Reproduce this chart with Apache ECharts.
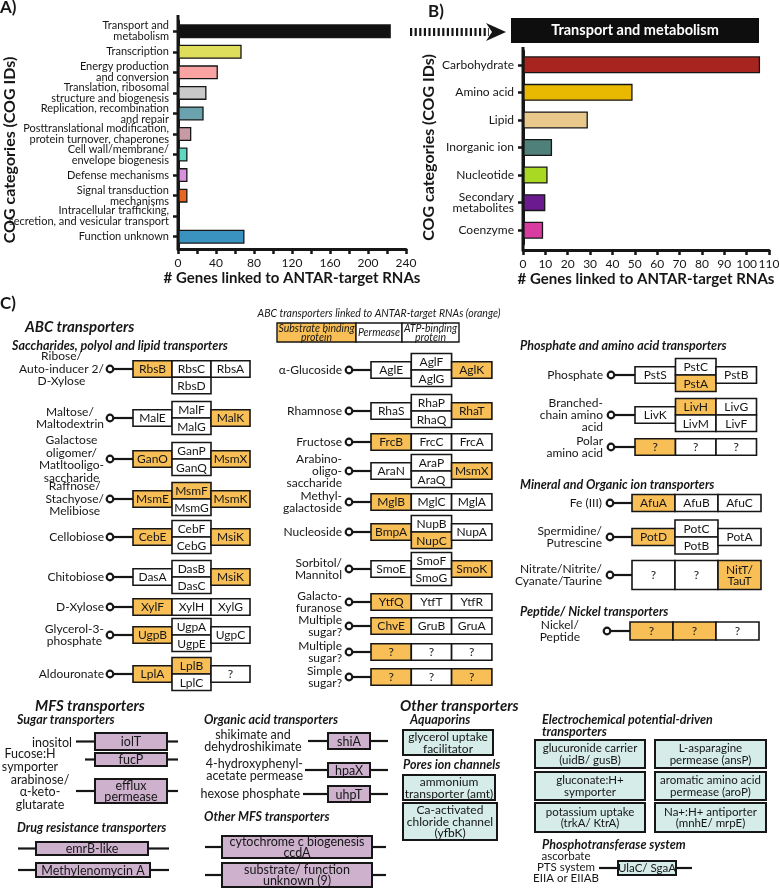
<!DOCTYPE html>
<html>
<head>
<meta charset="utf-8">
<script src="https://cdn.jsdelivr.net/npm/echarts@6/dist/echarts.min.js"></script>
<style>
  html, body { margin: 0; padding: 0; background: #fff; }
  #chart { width: 779px; height: 891px; }
</style>
</head>
<body>
<div id="chart"></div>
<script>
// ---------- panel A: all COG categories
const catsA = [
  'Transport and\nmetabolism', 'Transcription', 'Energy production\nand conversion',
  'Translation, ribosomal\nstructure and biogenesis', 'Replication, recombination\nand repair',
  'Posttranslational modification,\nprotein turnover, chaperones', 'Cell wall/membrane/\nenvelope biogenesis',
  'Defense mechanisms', 'Signal transduction\nmechanisms',
  'Intracellular trafficking,\nsecretion, and vesicular transport', 'Function unknown'
];
const valsA = [224, 67, 42, 30, 27, 14, 10, 10, 10, 0, 70];
const colorsA = ['#111111', '#dfdd5c', '#f9a3a3', '#c9c9c9', '#6aa3ad', '#c79aa4',
  '#5ed8c1', '#d990df', '#e8651f', '#d0d0d0', '#3a93bf'];
const ticksA = [0, 40, 80, 120, 160, 200, 240];

// ---------- panel B: transport and metabolism
const catsB = ['Carbohydrate', 'Amino acid', 'Lipid', 'Inorganic ion', 'Nucleotide',
  'Secondary\nmetabolites', 'Coenzyme'];
const valsB = [106, 49, 29, 13, 11, 10, 9];
const colorsB = ['#a8241f', '#e9b902', '#e9c98b', '#4f8079', '#a9d923', '#6b1a8f', '#d93ca1'];
const ticksB = [0, 10, 20, 30, 40, 50, 60, 70, 80, 90, 100, 110];

// ---------- panel C: ABC transporters  [label, layout kind, subunits, linked (orange)]
const abcSugarsLeft = [
  ['Ribose/\nAuto-inducer 2/\nD-Xylose', 'drop', ['RbsB', 'RbsC', 'RbsD', 'RbsA'], [1, 0, 0, 0]],
  ['Maltose/\nMaltodextrin', 'split', ['MalE', 'MalF', 'MalG', 'MalK'], [0, 0, 0, 1]],
  ['Galactose\noligomer/\nMatltooligo-\nsaccharide', 'split', ['GanO', 'GanP', 'GanQ', 'MsmX'], [1, 0, 0, 1]],
  ['Raffnose/\nStachyose/\nMelibiose', 'split', ['MsmE', 'MsmF', 'MsmG', 'MsmK'], [1, 1, 0, 1]],
  ['Cellobiose', 'split', ['CebE', 'CebF', 'CebG', 'MsiK'], [1, 0, 0, 1]],
  ['Chitobiose', 'split', ['DasA', 'DasB', 'DasC', 'MsiK'], [0, 0, 0, 1]],
  ['D-Xylose', 'row', ['XylF', 'XylH', 'XylG'], [1, 0, 0]],
  ['Glycerol-3-\nphosphate', 'split', ['UgpB', 'UgpA', 'UgpE', 'UgpC'], [1, 0, 0, 0]],
  ['Aldouronate', 'split', ['LplA', 'LplB', 'LplC', '?'], [1, 1, 0, 0]]
];
const abcSugarsMid = [
  ['α-Glucoside', 'split', ['AglE', 'AglF', 'AglG', 'AglK'], [0, 0, 0, 1]],
  ['Rhamnose', 'split', ['RhaS', 'RhaP', 'RhaQ', 'RhaT'], [0, 0, 0, 1]],
  ['Fructose', 'row', ['FrcB', 'FrcC', 'FrcA'], [1, 0, 0]],
  ['Arabino-\noligo-\nsaccharide', 'split', ['AraN', 'AraP', 'AraQ', 'MsmX'], [0, 0, 0, 1]],
  ['Methyl-\ngalactoside', 'row', ['MglB', 'MglC', 'MglA'], [1, 0, 0]],
  ['Nucleoside', 'split', ['BmpA', 'NupB', 'NupC', 'NupA'], [1, 0, 1, 0]],
  ['Sorbitol/\nMannitol', 'split', ['SmoE', 'SmoF', 'SmoG', 'SmoK'], [0, 0, 0, 1]],
  ['Galacto-\nfuranose', 'row', ['YtfQ', 'YtfT', 'YtfR'], [1, 0, 0]],
  ['Multiple\nsugar?', 'row', ['ChvE', 'GruB', 'GruA'], [1, 0, 0]],
  ['Multiple\nsugar?', 'row', ['?', '?', '?'], [1, 0, 0]],
  ['Simple\nsugar?', 'row', ['?', '?', '?'], [1, 0, 1]]
];
const abcPhosAmino = [
  ['Phosphate', 'split', ['PstS', 'PstC', 'PstA', 'PstB'], [0, 0, 1, 0]],
  ['Branched-\nchain amino\nacid', 'split2', ['LivK', 'LivH', 'LivM', 'LivG', 'LivF'], [0, 1, 0, 0, 0]],
  ['Polar\namino acid', 'row', ['?', '?', '?'], [1, 0, 0]]
];
const abcIons = [
  ['Fe (III)', 'row', ['AfuA', 'AfuB', 'AfuC'], [1, 0, 0]],
  ['Spermidine/\nPutrescine', 'split', ['PotD', 'PotC', 'PotB', 'PotA'], [1, 0, 0, 0]],
  ['Nitrate/Nitrite/\nCyanate/Taurine', 'tall', ['?', '?', 'NitT/\nTauT'], [0, 0, 1]]
];
const abcPeptide = [
  ['Nickel/\nPeptide', 'row', ['?', '?', '?'], [1, 1, 0]]
];
const abcLegend = ['Substrate binding\nprotein', 'Permease', 'ATP-binding\nprotein'];

// ---------- panel C: MFS and other transporters
const mfsSugar = [['inositol', 'iolT'], ['Fucose:H\nsymporter', 'fucP'], ['arabinose/\nα-keto-\nglutarate', 'efflux\npermease']];
const mfsDrug = ['emrB-like', 'Methylenomycin A'];
const mfsOrganic = [['shikimate and\ndehydroshikimate', 'shiA'], ['4-hydroxyphenyl-\nacetate permease', 'hpaX'], ['hexose phosphate', 'uhpT']];
const mfsOther = ['cytochrome c biogenesis\nccdA', 'substrate/ function\nunknown (9)'];
const aquaporins = ['glycerol uptake\nfacilitator'];
const pores = ['ammonium\ntransporter (amt)', 'Ca-activated\nchloride channel\n(yfbK)'];
const electro = ['glucuronide carrier\n(uidB/ gusB)', 'L-asparagine\npermease (ansP)',
  'gluconate:H+\nsymporter', 'aromatic amino acid\npermease (aroP)',
  'potassium uptake\n(trkA/ KtrA)', 'Na+:H+ antiporter\n(mnhE/ mrpE)'];
const pts = ['ascorbate\nPTS system\nEIIA or EIIAB', 'UlaC/ SgaA'];

// ---------- layout (positions only)
const FONT = 'Lato, "DejaVu Sans", sans-serif';
const INK = '#161616';
const ORANGE = '#f8bf57';
const PURPLE = '#cdb1cd';
const CYAN = '#d5ece8';

const colLeft = { labelX: 104, cx: 110, x0: 133, w: 39, h: 16.5, center: true, rows: [369, 418, 459, 499, 537, 577, 607, 635, 674] };
const colMid = { labelX: 342, cx: 349, x0: 371, w: 40.3, h: 16.5, rows: [370, 411, 442, 471, 502, 532, 569, 602, 626, 652, 677] };
const colPhos = { labelX: 603, cx: 611, x0: 635, w: 40.5, h: 16.5, rows: [375, 415, 447] };
const colIons = { labelX: 602, cx: 610, x0: 632, w: 43, h: 17, rows: [503, 537, 575] };
const colPep = { labelX: 580, cx: 607, x0: 630, w: 43, h: 18, center: true, rows: [631] };

const g = [];
const ctx = document.createElement('canvas').getContext('2d');
function widest(s, size) {
  ctx.font = size + 'px ' + FONT;
  return Math.max(...s.split('\n').map(l => ctx.measureText(l).width));
}
function text(s, x, y, o = {}) {
  const size = o.size || 12;
  g.push({
    type: 'text', x: x, y: y, z: 10, rotation: o.rot || 0,
    style: {
      text: s, fill: o.color || INK, fontFamily: FONT, fontSize: size,
      fontWeight: o.bold ? 'bold' : 'normal', fontStyle: o.italic ? 'italic' : 'normal',
      align: o.align || 'left', textAlign: o.align || 'left',
      verticalAlign: 'middle', textVerticalAlign: 'middle',
      lineHeight: o.lh || Math.round(size * 1.02)
    }
  });
}
function line(x1, y1, x2, y2, w) {
  g.push({ type: 'line', z: 8, shape: { x1, y1, x2, y2 }, style: { stroke: INK, lineWidth: w || 2.2 } });
}
function box(x, y, w, h, s, fill, o = {}) {
  g.push({ type: 'rect', z: 9, shape: { x, y, width: w, height: h }, style: { fill: fill, stroke: INK, lineWidth: o.lw || 1.6 } });
  if (s) text(s, x + w / 2, y + h / 2 + 0.5, { align: 'center', size: o.size || 12, lh: o.lh || 11.5, italic: o.italic });
}
function heading(s, x, y, big) {
  text(s, x, y, { bold: true, italic: true, size: big ? 15 : 12.5 });
}

function abcRows(rows, col) {
  rows.forEach((row, r) => {
    const [label, kind, genes, flags] = row;
    const y = col.rows[r];
    const h = kind === 'tall' ? 29 : col.h;
    const w = col.w, x0 = col.x0;
    if (col.center) text(label, col.labelX - widest(label, 12) / 2, y, { align: 'center', lh: 12.5 });
    else text(label, col.labelX, y, { align: 'right', lh: 12 });
    line(col.cx + 3.5, y, x0, y, 2.2);
    g.push({ type: 'circle', z: 9, shape: { cx: col.cx, cy: y, r: 3.3 }, style: { fill: '#fff', stroke: INK, lineWidth: 2.2 } });
    let cells;
    if (kind === 'row' || kind === 'tall') cells = genes.map((n, i) => [x0 + i * w, y - h / 2]);
    else if (kind === 'split') cells = [[x0, y - h / 2], [x0 + w, y - h], [x0 + w, y], [x0 + 2 * w, y - h / 2]];
    else if (kind === 'split2') cells = [[x0, y - h / 2], [x0 + w, y - h], [x0 + w, y], [x0 + 2 * w, y - h], [x0 + 2 * w, y]];
    else cells = [[x0, y - h / 2], [x0 + w, y - h / 2], [x0 + w, y + h / 2], [x0 + 2 * w, y - h / 2]];
    cells.forEach(([bx, by], i) => box(bx, by, w, h, genes[i], flags[i] ? ORANGE : '#fff', { lh: 11 }));
  });
}

// panel letters, panel A axis title and panel B header
text('A)', 0, 8, { bold: true, size: 17 });
text('B)', 428, 12, { bold: true, size: 17 });
text('C)', 0, 304, { bold: true, size: 17 });
text('COG categories (COG IDs)', 10, 150, { bold: true, size: 16, align: 'center', rot: Math.PI / 2 });
g.push({ type: 'line', z: 8, shape: { x1: 410, y1: 32, x2: 489, y2: 32 }, style: { stroke: INK, lineWidth: 8, lineDash: [2.2, 2.4] } });
g.push({ type: 'polygon', z: 8, shape: { points: [[486, 23], [506, 32], [486, 41], [492, 32]] }, style: { fill: INK } });
g.push({ type: 'rect', z: 8, shape: { x: 511, y: 18, width: 248, height: 25 }, style: { fill: '#0e0e0e' } });
text('Transport and metabolism', 635, 30.5, { bold: true, size: 14.5, color: '#fff', align: 'center' });
// axis line ends (the bars' category axes reach the value axes)
line(178, 15, 178, 249, 3);
line(523, 47, 523, 250, 3);

// ABC transporters
heading('ABC transporters', 25, 327, true);
heading('Saccharides, polyol and lipid transporters', 12, 346);
text('ABC transporters linked to ANTAR-target RNAs (orange)', 379, 314, { italic: true, size: 10.5, align: 'center' });
[[277, 79, ORANGE], [356, 46, '#fff'], [402, 57, '#fff']].forEach(([x, w, f], i) =>
  box(x, 323, w, 19, abcLegend[i], f, { size: 10.5, lh: 9.5, italic: true, lw: 1.4 }));
abcRows(abcSugarsLeft, colLeft);
abcRows(abcSugarsMid, colMid);
heading('Phosphate and amino acid transporters', 520, 346);
abcRows(abcPhosAmino, colPhos);
heading('Mineral and Organic ion transporters', 520, 485);
abcRows(abcIons, colIons);
heading('Peptide/ Nickel transporters', 520, 612);
abcRows(abcPeptide, colPep);

// MFS transporters
heading('MFS transporters', 35, 706, true);
heading('Sugar transporters', 17, 720);
const sugarBoxes = [[733, 17, 76, 'right', 72], [753, 13, 85, 'center', 30], [779, 24, 76, 'center', 40]];
mfsSugar.forEach(([lab, gene], i) => {
  const [y, h, l0, al, lx] = sugarBoxes[i];
  const cy = y + h / 2;
  line(l0, cy, 95, cy); line(167, cy, 178, cy);
  box(95, y, 72, h, gene, PURPLE, { lw: 2, size: 12.5, lh: 11.5 });
  text(lab, lx, cy + 1, { align: al, size: 12.5, lh: 12.5 });
});
heading('Drug resistance transporters', 17, 828);
[[842, 13, 112], [863, 14, 114]].forEach(([y, h, w], i) => {
  const cy = y + h / 2;
  line(18, cy, 36, cy); line(36 + w, cy, 169, cy);
  box(36, y, w, h, mfsDrug[i], PURPLE, { lw: 2, size: 12.5 });
});
heading('Organic acid transporters', 204, 720);
const orgBoxes = [[733, 16, 308, 'center', 253], [763, 14, 305, 'right', 303], [786, 16, 303, 'right', 300]];
mfsOrganic.forEach(([lab, gene], i) => {
  const [y, h, l0, al, lx] = orgBoxes[i];
  const cy = y + h / 2;
  line(l0, cy, 328, cy); line(370, cy, 388, cy);
  box(328, y, 42, h, gene, PURPLE, { lw: 2, size: 12.5 });
  text(lab, lx, cy, { align: al, size: 12.5, lh: 12 });
});
heading('Other MFS transporters', 204, 817);
[[836, 22], [863, 24]].forEach(([y, h], i) => {
  const cy = y + h / 2;
  line(205, cy, 222, cy); line(372, cy, 386, cy);
  box(222, y, 150, h, mfsOther[i], PURPLE, { lw: 2, size: 12.5, lh: 11.5 });
});

// Other transporters
heading('Other transporters', 400, 706, true);
heading('Aquaporins', 410, 720);
box(403, 730, 90, 25, aquaporins[0], CYAN, { lw: 2, size: 12, lh: 11.5 });
heading('Pores ion channels', 403, 765);
box(403, 775, 92, 25, pores[0], CYAN, { lw: 2, size: 12, lh: 11.5 });
box(403, 803, 94, 37, pores[1], CYAN, { lw: 2, size: 12, lh: 11.5 });
heading('Electrochemical potential-driven', 542, 720);
heading('transporters', 542, 732);
[[740, 28], [772, 28], [803, 29]].forEach(([y, h], r) => {
  box(535, y, 110, h, electro[2 * r], CYAN, { lw: 2, size: 11.5, lh: 11.5 });
  box(655, y, 111, h, electro[2 * r + 1], CYAN, { lw: 2, size: 11.5, lh: 11.5 });
});
heading('Phosphotransferase system', 542, 845);
text(pts[0], 566, 867, { align: 'center', size: 11.5, lh: 11 });
line(599, 868, 618, 868); line(676, 868, 692, 868);
box(618, 861, 58, 14, pts[1], CYAN, { lw: 2, size: 11.5 });

// ---------- chart
const axisInk = { color: INK, width: 3 };
const tickInk = { color: INK, width: 2.5 };
const chart = echarts.init(document.getElementById('chart'));
chart.setOption({
  animation: false,
  textStyle: { fontFamily: FONT },
  grid: [
    { left: 178, top: 21, width: 228, height: 226, outerBoundsMode: 'none', containLabel: false },
    { left: 523, top: 51, width: 246, height: 193, outerBoundsMode: 'none', containLabel: false }
  ],
  xAxis: [
    {
      gridIndex: 0, type: 'value', min: ticksA[0], max: ticksA[ticksA.length - 1], interval: ticksA[1] - ticksA[0], offset: 2,
      axisLine: { show: true, lineStyle: axisInk },
      axisTick: { show: true, length: 5, lineStyle: tickInk },
      minorTick: { show: true, splitNumber: 2, length: 5, lineStyle: tickInk },
      splitLine: { show: false },
      axisLabel: { fontSize: 12, color: INK, margin: 8 },
      name: '# Genes linked to ANTAR-target RNAs', nameLocation: 'middle', nameGap: 22,
      nameTextStyle: { fontSize: 15, fontWeight: 'bold', color: INK }
    },
    {
      gridIndex: 1, type: 'value', min: ticksB[0], max: ticksB[ticksB.length - 1], interval: ticksB[1] - ticksB[0], offset: 6,
      axisLine: { show: true, lineStyle: axisInk },
      axisTick: { show: true, length: 5, lineStyle: tickInk },
      splitLine: { show: false },
      axisLabel: { fontSize: 12, color: INK, margin: 8 },
      name: '# Genes linked to ANTAR-target RNAs', nameLocation: 'middle', nameGap: 22,
      nameTextStyle: { fontSize: 15, fontWeight: 'bold', color: INK }
    }
  ],
  yAxis: [
    {
      gridIndex: 0, type: 'category', data: catsA, inverse: true,
      axisLine: { show: true, lineStyle: axisInk },
      axisTick: { show: true, alignWithLabel: true, length: 5, lineStyle: tickInk },
      axisLabel: { fontSize: 11, lineHeight: 11, color: INK, margin: 9 }
    },
    {
      gridIndex: 1, type: 'category', data: catsB, inverse: true,
      axisLine: { show: true, lineStyle: axisInk },
      axisTick: { show: true, alignWithLabel: true, length: 5, lineStyle: tickInk },
      axisLabel: { fontSize: 12, lineHeight: 11, color: INK, margin: 9 },
      name: 'COG categories (COG IDs)', nameLocation: 'middle', nameGap: 86,
      nameTextStyle: { fontSize: 16, fontWeight: 'bold', color: INK }
    }
  ],
  series: [
    {
      type: 'bar', xAxisIndex: 0, yAxisIndex: 0, barWidth: 14,
      itemStyle: { borderColor: INK, borderWidth: 1.3 },
      data: valsA.map((v, i) => ({ value: v, itemStyle: { color: colorsA[i] } }))
    },
    {
      type: 'bar', xAxisIndex: 1, yAxisIndex: 1, barWidth: 17,
      itemStyle: { borderColor: INK, borderWidth: 1.3 },
      data: valsB.map((v, i) => ({ value: v, itemStyle: { color: colorsB[i] } }))
    }
  ],
  graphic: g
});
</script>
</body>
</html>
